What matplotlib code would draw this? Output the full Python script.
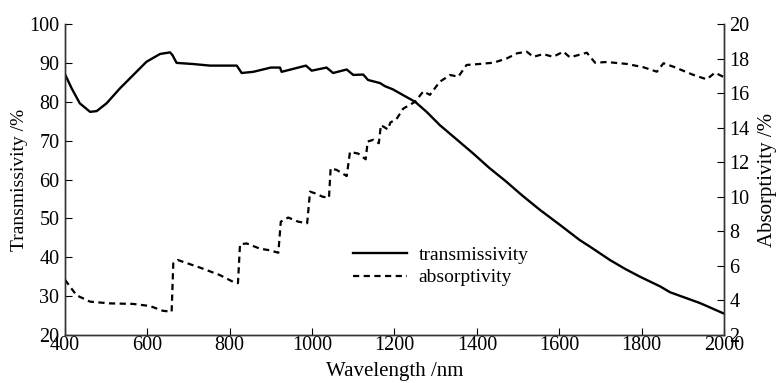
import matplotlib
matplotlib.use("Agg")
import matplotlib.pyplot as plt

plt.rcParams['font.family'] = ['Liberation Serif', 'DejaVu Serif']

# transmissivity (left axis)
wl_t = [400, 416, 436, 461, 477, 501, 534, 566, 598, 631, 655, 661, 671, 712, 752,
        817, 829, 857, 900, 922, 926, 985, 999, 1035, 1051, 1084, 1100, 1124, 1136,
        1165, 1177, 1196, 1221, 1250, 1278, 1310, 1340, 1391, 1430, 1472, 1510, 1553,
        1602, 1650, 1675, 1723, 1760, 1796, 1845, 1869, 1942, 1998]
trans = [87.1, 83.5, 79.6, 77.4, 77.6, 79.6, 83.5, 86.9, 90.3, 92.3, 92.7, 92.0, 90.0,
         89.7, 89.3, 89.3, 87.4, 87.7, 88.8, 88.8, 87.7, 89.3, 88.0, 88.8, 87.4, 88.3,
         86.9, 87.0, 85.6, 84.8, 84.0, 83.2, 81.7, 80.0, 77.4, 74.0, 71.3, 66.7, 63.0,
         59.4, 55.9, 52.2, 48.3, 44.4, 42.7, 39.3, 37.0, 35.0, 32.5, 31.0, 28.2, 25.6]

# absorptivity (right axis)
wl_a = [400, 428, 461, 509, 565, 606, 638, 659, 663, 674, 728, 776, 808, 820, 825, 841,
        873, 898, 918, 924, 942, 966, 988, 995, 1007, 1026, 1041, 1045, 1060, 1084,
        1092, 1112, 1130, 1135, 1149, 1162, 1167, 1184, 1190, 1205, 1221, 1250, 1270,
        1286, 1310, 1335, 1355, 1375, 1408, 1440, 1472, 1497, 1521, 1537, 1561, 1585,
        1610, 1626, 1638, 1667, 1687, 1715, 1764, 1804, 1837, 1853, 1877, 1926, 1958,
        1978, 1998]
absorp = [5.2, 4.3, 3.93, 3.83, 3.8, 3.68, 3.4, 3.35, 6.15, 6.34, 5.9, 5.47, 5.08, 5.0,
          7.25, 7.3, 7.0, 6.9, 6.76, 8.56, 8.8, 8.56, 8.47, 10.3, 10.2, 10.0, 9.95,
          11.65, 11.55, 11.2, 12.6, 12.5, 12.17, 13.2, 13.3, 13.1, 14.15, 13.9, 14.3,
          14.5, 15.1, 15.5, 16.1, 15.9, 16.66, 17.05, 16.95, 17.63, 17.69, 17.76, 18.0,
          18.3, 18.4, 18.1, 18.26, 18.1, 18.4, 18.07, 18.15, 18.34, 17.76, 17.8, 17.69,
          17.5, 17.24, 17.73, 17.53, 17.05, 16.8, 17.18, 16.95]

fig = plt.figure(figsize=(7.78, 3.83), dpi=100)
ax = fig.add_axes([0.0835, 0.1253, 0.8471, 0.812])
ax2 = ax.twinx()

l1, = ax.plot(wl_t, trans, color='black', lw=1.7, label='transmissivity')
l2, = ax2.plot(wl_a, absorp, color='black', lw=1.6, linestyle=(0, (2.8, 2.0)),
               label='absorptivity')

ax.set_xlim(400, 2000)
ax.set_ylim(20, 100)
ax2.set_ylim(2, 20)
ax.set_xticks(range(400, 2001, 200))
ax.set_yticks(range(20, 101, 10))
ax2.set_yticks(range(2, 21, 2))

for a in (ax, ax2):
    a.spines['top'].set_visible(False)
    for s in a.spines.values():
        s.set_linewidth(1.0)
        s.set_color('#333333')
ax.tick_params(axis='x', direction='in', length=5, pad=1, labelsize=14.5)
ax.tick_params(axis='y', direction='in', length=5, pad=4, labelsize=14.5)
ax2.tick_params(axis='y', direction='in', length=5, pad=4, labelsize=14.5)

ax.set_xlabel('Wavelength /nm', fontsize=15, labelpad=5)
ax.set_ylabel('Transmissivity /%', fontsize=14, labelpad=1)
ax2.set_ylabel('Absorptivity /%', fontsize=15, labelpad=6)

ax.legend(handles=[l1, l2], loc='lower left', bbox_to_anchor=(0.41, 0.10),
          frameon=False, fontsize=14, handlelength=2.8, handletextpad=0.6,
          labelspacing=0.25)

fig.savefig('out.png', dpi=100)
